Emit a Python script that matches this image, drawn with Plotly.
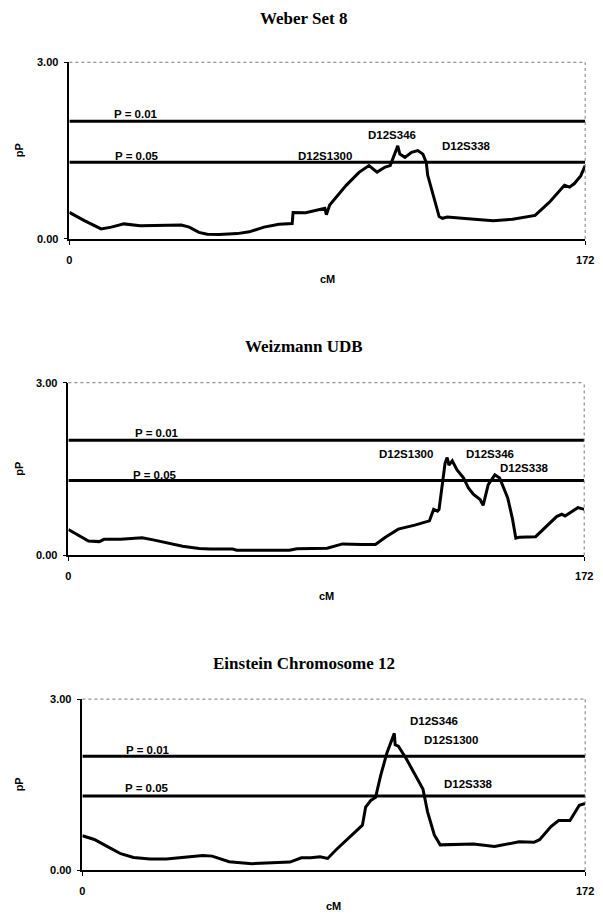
import plotly.graph_objects as go

# ---------------- data ----------------
panel_titles = ["Weber Set 8", "Weizmann UDB", "Einstein Chromosome 12"]

weber_cm = [0, 5, 10.6, 14, 18.2, 23.6, 37.3, 40, 43.2, 46, 50, 56, 60, 64.9, 69.9, 74.3,
            74.6, 78.8, 85.2, 85.7, 86.8, 92.3, 96.6, 99.9, 102.6, 105.3, 107, 108.6, 109.5,
            110.2, 111.9, 114.1, 116.2, 117.9, 119, 119.5, 123.3, 124.4, 126, 134, 141.3,
            147.8, 155.3, 160, 165.1, 166.8, 168.4, 170.5, 172]
weber_pp = [0.45, 0.31, 0.17, 0.2, 0.255, 0.223, 0.235, 0.2, 0.11, 0.08, 0.075, 0.09, 0.12,
            0.2, 0.25, 0.26, 0.45, 0.445, 0.52, 0.41, 0.575, 0.91, 1.13, 1.245, 1.135, 1.22,
            1.245, 1.44, 1.58, 1.44, 1.385, 1.47, 1.50, 1.44, 1.30, 1.08, 0.38, 0.35, 0.37,
            0.34, 0.31, 0.335, 0.40, 0.62, 0.91, 0.88, 0.94, 1.07, 1.245]

weizmann_cm = [0, 6.7, 10.3, 11.9, 17.4, 22, 24.6, 28.3, 32.7, 38.1, 43.6, 47.3, 54.8, 56.1,
               73.7, 76.2, 86.3, 88.8, 91.4, 97.7, 102.4, 105.7, 110, 115.5, 120.4, 121.8,
               123.1, 123.6, 124.7, 125.6, 126.3, 126.9, 128, 129.6, 131.8, 133.4, 135.1,
               137.3, 138.3, 140, 142.2, 143.8, 146.5, 148.1, 149.2, 150.3, 155.8, 159,
               162.8, 164.5, 165.6, 169.9, 172]
weizmann_pp = [0.45, 0.25, 0.24, 0.28, 0.28, 0.30, 0.305, 0.27, 0.22, 0.16, 0.12, 0.11, 0.11,
               0.09, 0.09, 0.115, 0.125, 0.16, 0.20, 0.19, 0.19, 0.315, 0.457, 0.526, 0.60,
               0.80, 0.77, 0.80, 1.286, 1.60, 1.70, 1.57, 1.645, 1.486, 1.344, 1.17, 1.06,
               0.97, 0.87, 1.23, 1.40, 1.344, 1.0, 0.63, 0.30, 0.315, 0.326, 0.486, 0.675,
               0.715, 0.686, 0.83, 0.80]

einstein_cm = [0, 4.1, 8.6, 13.1, 17.5, 23.1, 28.7, 35.4, 41.2, 44.4, 50.2, 58, 63.2, 71,
               74.9, 78.1, 81.3, 83.9, 86.8, 91.7, 95.8, 96.9, 98.6, 100.3, 102, 104.2,
               106.7, 107, 108.1, 110.9, 114.2, 116.5, 118.1, 120.4, 122.4, 133.8, 141,
               149.4, 154.5, 156.4, 160.3, 162.9, 166.8, 170, 172]
einstein_pp = [0.605, 0.54, 0.415, 0.29, 0.225, 0.197, 0.197, 0.225, 0.26, 0.248, 0.15, 0.115,
               0.127, 0.144, 0.219, 0.219, 0.236, 0.207, 0.36, 0.59, 0.79, 1.107, 1.223,
               1.28, 1.656, 2.06, 2.40, 2.20, 2.175, 1.945, 1.63, 1.425, 1.02, 0.62, 0.445,
               0.46, 0.415, 0.50, 0.49, 0.535, 0.766, 0.87, 0.87, 1.14, 1.17]

thresholds = [2.0, 1.3]
threshold_labels = ["P = 0.01", "P = 0.05"]
threshold_label_x = [[22.3, 22.5], [29.4, 28.9], [22.5, 22.0]]
threshold_label_y = [[2.12, 1.41], [2.12, 1.39], [2.10, 1.45]]

marker_names = [["D12S1300", "D12S346", "D12S338"],
                ["D12S1300", "D12S346", "D12S338"],
                ["D12S346", "D12S1300", "D12S338"]]
marker_x = [[85.2, 107.5, 132.5], [112.7, 140.5, 152.0], [120.4, 126.0, 132.1]]
marker_y = [[1.40, 1.765, 1.58], [1.76, 1.76, 1.515], [2.61, 2.29, 1.51]]

x_range = [0, 172]
y_range = [0, 3]
x_tick_text = ["0", "172"]
y_tick_text = ["0.00", "3.00"]

# ---------------- layout geometry (pixels) ----------------
W, H = 603, 918
# (left, right, top, bottom) in pixels
boxes = [(67.7, 594, 57, 236), (66.7, 593, 381.7, 556.7), (81, 594, 702.3, 875.7)]
title_y = [13, 345, 666]
cm_y = [277, 598, 912]

series = [(weber_cm, weber_pp), (weizmann_cm, weizmann_pp), (einstein_cm, einstein_pp)]

SANS = "Liberation Sans, Arial, sans-serif"
SERIF = "Liberation Serif, Times New Roman, serif"

fig = go.Figure()
layout = dict(width=W, height=H, margin=dict(l=0, r=0, t=0, b=0),
              paper_bgcolor="white", plot_bgcolor="white", showlegend=False)
annotations = []
shapes = []

for i, ((l, r, t, b), (xs, ys)) in enumerate(zip(boxes, series)):
    n = "" if i == 0 else str(i + 1)
    xa, ya = "x" + n, "y" + n
    # threshold lines
    for thr in thresholds:
        fig.add_trace(go.Scatter(x=x_range, y=[thr, thr], mode="lines",
                                 line=dict(color="black", width=3),
                                 xaxis=xa, yaxis=ya, hoverinfo="skip"))
    fig.add_trace(go.Scatter(x=xs, y=ys, mode="lines",
                             line=dict(color="black", width=3),
                             xaxis=xa, yaxis=ya))
    layout["xaxis" + n] = dict(domain=[l / W, r / W], range=x_range, anchor=ya,
                               tickvals=x_range, ticktext=x_tick_text,
                               showline=True, linecolor="black", linewidth=1.5,
                               ticks="outside", ticklen=4, tickcolor="black",
                               ticklabelstandoff=6,
                               showgrid=False, zeroline=False, fixedrange=True,
                               tickfont=dict(family=SANS, size=11, color="black", weight="bold"))
    layout["yaxis" + n] = dict(domain=[1 - b / H, 1 - t / H], range=y_range, anchor=xa,
                               tickvals=y_range, ticktext=y_tick_text,
                               showline=True, linecolor="black", linewidth=1.5,
                               ticks="outside", ticklen=4, tickcolor="black",
                               ticklabelstandoff=3,
                               showgrid=False, zeroline=False, fixedrange=True,
                               tickfont=dict(family=SANS, size=11, color="black", weight="bold"))
    # dotted top/right frame
    shapes.append(dict(type="line", xref=xa + " domain", yref=ya + " domain",
                       x0=0, x1=1, y0=1, y1=1, line=dict(color="#777", width=1, dash="dot")))
    shapes.append(dict(type="line", xref=xa + " domain", yref=ya + " domain",
                       x0=1, x1=1, y0=0, y1=1, line=dict(color="#777", width=1, dash="dot")))
    # titles
    annotations.append(dict(text=panel_titles[i], xref="paper", yref="paper",
                            x=307 / W, y=1 - title_y[i] / H, showarrow=False,
                            xanchor="center", yanchor="middle",
                            font=dict(family=SERIF, size=17, color="black", weight="bold")))
    annotations.append(dict(text="cM", xref="paper", yref="paper",
                            x=((l + r) / 2) / W, y=1 - cm_y[i] / H, showarrow=False,
                            xanchor="center", yanchor="middle",
                            font=dict(family=SANS, size=11, color="black", weight="bold")))
    annotations.append(dict(text="pP", xref="paper", yref="paper", textangle=-90,
                            x=16 / W, y=1 - ((t + b) / 2) / H, showarrow=False,
                            xanchor="center", yanchor="middle",
                            font=dict(family=SANS, size=11, color="black", weight="bold")))
    for lab, lx, ly in zip(threshold_labels, threshold_label_x[i], threshold_label_y[i]):
        annotations.append(dict(text=lab, xref=xa, yref=ya, x=lx, y=ly, showarrow=False,
                                xanchor="center", yanchor="middle",
                                font=dict(family=SANS, size=11.5, color="black", weight="bold")))
    for lab, lx, ly in zip(marker_names[i], marker_x[i], marker_y[i]):
        annotations.append(dict(text=lab, xref=xa, yref=ya, x=lx, y=ly, showarrow=False,
                                xanchor="center", yanchor="middle",
                                font=dict(family=SANS, size=11.5, color="black", weight="bold")))

layout["annotations"] = annotations
layout["shapes"] = shapes
fig.update_layout(**layout)
fig.write_html("out.html")
